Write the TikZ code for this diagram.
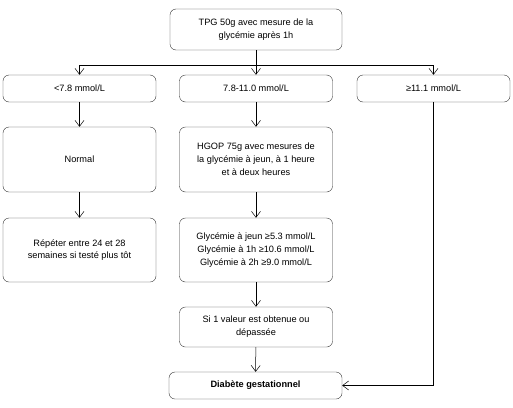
\documentclass[tikz,border=0pt]{standalone}
\usepackage{fontspec}
\setmainfont{Liberation Sans}
\usetikzlibrary{arrows.meta,calc}

\begin{document}
\begin{tikzpicture}[x=1pt,y=-1pt,
    box/.style={draw=black!80, rounded corners=6pt, align=center, inner sep=0pt,
                minimum width=153pt, font=\fontsize{9.2}{12.8}\selectfont, text=black},
    arr/.style={-{Straight Barb[length=6pt,width=9pt]}, black, line width=0.5pt}]
  \useasboundingbox (0,0) rectangle (513,407);

  \node[box, minimum width=172pt, minimum height=41pt] (tpg) at (256,29.5) {TPG 50g avec mesure de la\\glycémie après 1h};

  \node[box, minimum height=27pt] (lo)  at (79.5,88.5)  {<7.8 mmol/L};
  \node[box, minimum height=27pt] (mid) at (256,88.5)   {7.8-11.0 mmol/L};
  \node[box, minimum height=27pt] (hi)  at (433.5,88.5) {≥11.1 mmol/L};

  \node[box, minimum height=65pt] (normal) at (79.5,159.5) {Normal};
  \node[box, minimum height=65pt] (hgop)   at (256,159.5)  {HGOP 75g avec mesures de\\la glycémie à jeun, à 1 heure\\et à deux heures};

  \node[box, minimum height=64pt] (repeter) at (79.5,250) {Répéter entre 24 et 28\\semaines si testé plus tôt};
  \node[box, minimum height=64pt] (seuils)  at (256,250)  {Glycémie à jeun ≥5.3 mmol/L\\Glycémie à 1h ≥10.6 mmol/L\\Glycémie à 2h ≥9.0 mmol/L};

  \node[box, minimum height=40pt] (si) at (256,327) {Si 1 valeur est obtenue ou\\dépassée};

  \node[box, minimum width=173pt, minimum height=27pt, font=\fontsize{9.2}{12.8}\selectfont\bfseries] (diab) at (255.5,385.5) {Diabète gestationnel};

  % branches sous le test de depistage
  \coordinate (bus) at (256,65);
  \draw[black, line width=0.5pt] (bus -| lo) -- (bus -| hi);
  \draw[arr] (tpg) -- (mid);
  \draw[arr] (bus -| lo) -- (lo);
  \draw[arr] (bus -| hi) -- (hi);

  \draw[arr] (lo) -- (normal);
  \draw[arr] (normal) -- (repeter);

  \draw[arr] (mid) -- (hgop);
  \draw[arr] (hgop) -- (seuils);
  \draw[arr] (seuils) -- (si);
  \draw[arr] (si) -- (diab);

  \draw[arr] (hi.south) |- (diab.east);
\end{tikzpicture}
\end{document}
